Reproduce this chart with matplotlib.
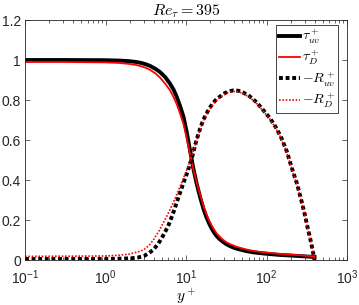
import matplotlib
matplotlib.use("Agg")
import matplotlib.pyplot as plt

# --- du lieu doc tu hinh goc ---
title_text = r"$Re_\tau = 395$"
xlabel_text = r"$y^+$"
legend_labels = [r"$\tau_{uv}^+$", r"$\tau_{D}^+$", r"$-R_{uv}^+$", r"$-R_{D}^+$"]

yp_tau = [0.1, 0.3, 1, 1.5, 2, 2.4, 2.8, 3.2, 3.6, 4.2, 4.75, 5.5, 6.3, 7, 7.65,
          8.4, 9.3, 10.2, 11.2, 12.3, 13.5, 14.9, 16.5, 18.1, 19.5, 21, 22.5, 24,
          26, 29, 32, 35, 40, 45, 57, 70, 90, 140, 250, 395]
tau_uv = [1.0, 1.0, 0.999, 0.997, 0.994, 0.99, 0.985, 0.978, 0.97, 0.955, 0.94,
          0.915, 0.883, 0.852, 0.817, 0.772, 0.717, 0.64, 0.55, 0.46, 0.385, 0.317,
          0.255, 0.21, 0.18, 0.155, 0.135, 0.12, 0.105, 0.09, 0.078, 0.07, 0.06,
          0.054, 0.044, 0.038, 0.033, 0.026, 0.02, 0.015]
tau_D = [0.99, 0.99, 0.988, 0.985, 0.98, 0.975, 0.968, 0.96, 0.95, 0.932, 0.912,
         0.882, 0.85, 0.815, 0.78, 0.735, 0.68, 0.61, 0.53, 0.455, 0.39, 0.33,
         0.27, 0.225, 0.195, 0.17, 0.15, 0.133, 0.118, 0.1, 0.088, 0.08, 0.07,
         0.063, 0.052, 0.045, 0.039, 0.031, 0.024, 0.018]

yp_R_uv = [0.1, 1, 2, 2.5, 3, 3.5, 4, 4.5, 5, 5.5, 6, 6.5, 7, 7.7, 8.4, 9.3, 10.2,
           11, 12, 13, 14, 15.2, 16.4, 17.7, 19, 20.4, 21.8, 23.4, 25, 27, 29, 33,
           38.7, 45, 51.5, 62, 75.5, 90, 110, 130, 150, 178, 210, 240, 270, 300,
           325, 350, 365, 380, 395]
R_uv = [0.005, 0.005, 0.008, 0.012, 0.02, 0.035, 0.055, 0.08, 0.11, 0.14, 0.17,
        0.205, 0.24, 0.29, 0.335, 0.385, 0.43, 0.47, 0.52, 0.575, 0.62, 0.665,
        0.70, 0.728, 0.75, 0.77, 0.785, 0.80, 0.81, 0.82, 0.83, 0.842, 0.848,
        0.846, 0.837, 0.818, 0.788, 0.752, 0.71, 0.665, 0.618, 0.545, 0.45, 0.38,
        0.30, 0.225, 0.16, 0.105, 0.07, 0.035, 0.0]

yp_R_D = [0.1, 1, 1.5, 2, 2.5, 2.95, 3.3, 3.6, 4, 4.3, 4.7, 5.2, 5.7, 6.3, 7, 8, 9,
          10.2, 11, 12, 13, 14, 15.2, 16.4, 17.7, 19, 20.4, 21.8, 23.4, 25, 27, 29,
          33, 38.7, 45, 51.5, 62, 75.5, 90, 110, 130, 150, 178, 210, 240, 270, 300,
          325, 350, 365, 380, 395]
R_D = [0.018, 0.02, 0.024, 0.03, 0.04, 0.05, 0.065, 0.08, 0.105, 0.125, 0.15,
       0.185, 0.215, 0.25, 0.29, 0.345, 0.395, 0.45, 0.485, 0.53, 0.575, 0.615,
       0.66, 0.695, 0.723, 0.745, 0.765, 0.78, 0.795, 0.805, 0.815, 0.825, 0.837,
       0.843, 0.841, 0.832, 0.813, 0.783, 0.747, 0.705, 0.66, 0.613, 0.54, 0.445,
       0.375, 0.296, 0.222, 0.158, 0.104, 0.069, 0.035, 0.0]

xticks = [0.1, 1, 10, 100, 1000]
xtick_labels = [r"$\mathdefault{10^{-1}}$", r"$\mathdefault{10^{0}}$",
                r"$\mathdefault{10^{1}}$", r"$\mathdefault{10^{2}}$",
                r"$\mathdefault{10^{3}}$"]
yticks = [0, 0.2, 0.4, 0.6, 0.8, 1.0, 1.2]
ytick_labels = ["0", "0.2", "0.4", "0.6", "0.8", "1", "1.2"]

# --- cau hinh kieu chu ---
plt.rcParams["font.family"] = ["Liberation Sans", "DejaVu Sans"]
plt.rcParams["mathtext.fontset"] = "cm"

grey = (0.15, 0.15, 0.15)

fig = plt.figure(figsize=(3.59, 3.05), dpi=100)
ax = fig.add_axes([25 / 359, 1 - 260 / 305, 322 / 359, 240 / 305])

ax.plot(yp_tau, tau_uv, color="k", lw=2.8, label=legend_labels[0])
ax.plot(yp_tau, tau_D, color="r", lw=1.3, label=legend_labels[1])
ax.plot(yp_R_uv, R_uv, color="k", lw=2.8, linestyle=(0, (1, 0.7)),
        dash_capstyle="butt", label=legend_labels[2])
ax.plot(yp_R_D, R_D, color="r", lw=1.2, linestyle=(0, (1, 1)),
        dash_capstyle="butt", label=legend_labels[3])

ax.set_xscale("log")
ax.set_xlim(0.1, 1000)
ax.set_ylim(0, 1.2)
ax.set_xticks(xticks)
ax.set_xticklabels(xtick_labels)
ax.set_yticks(yticks)
ax.set_yticklabels(ytick_labels)

for s in ax.spines.values():
    s.set_color(grey)
    s.set_linewidth(0.6)
ax.tick_params(which="both", direction="in", top=True, right=True,
               color=grey, labelcolor=grey, labelsize=10, width=0.5)
ax.tick_params(which="major", length=3.5)
ax.tick_params(which="minor", length=2)
ax.tick_params(axis="x", which="major", pad=6)
ax.tick_params(axis="y", which="major", pad=3)

ax.set_title(title_text, fontsize=11.5, pad=3)
ax.set_xlabel(xlabel_text, fontsize=11, labelpad=0)

leg = ax.legend(loc="upper right", bbox_to_anchor=(313 / 322, 1 - 5 / 240),
                borderaxespad=0, fontsize=10, handlelength=1.5,
                handletextpad=0.15, labelspacing=0.2, borderpad=0.2,
                fancybox=False, framealpha=1)
leg.get_frame().set_edgecolor(grey)
leg.get_frame().set_linewidth(0.6)

fig.savefig("out.png", dpi=100)
